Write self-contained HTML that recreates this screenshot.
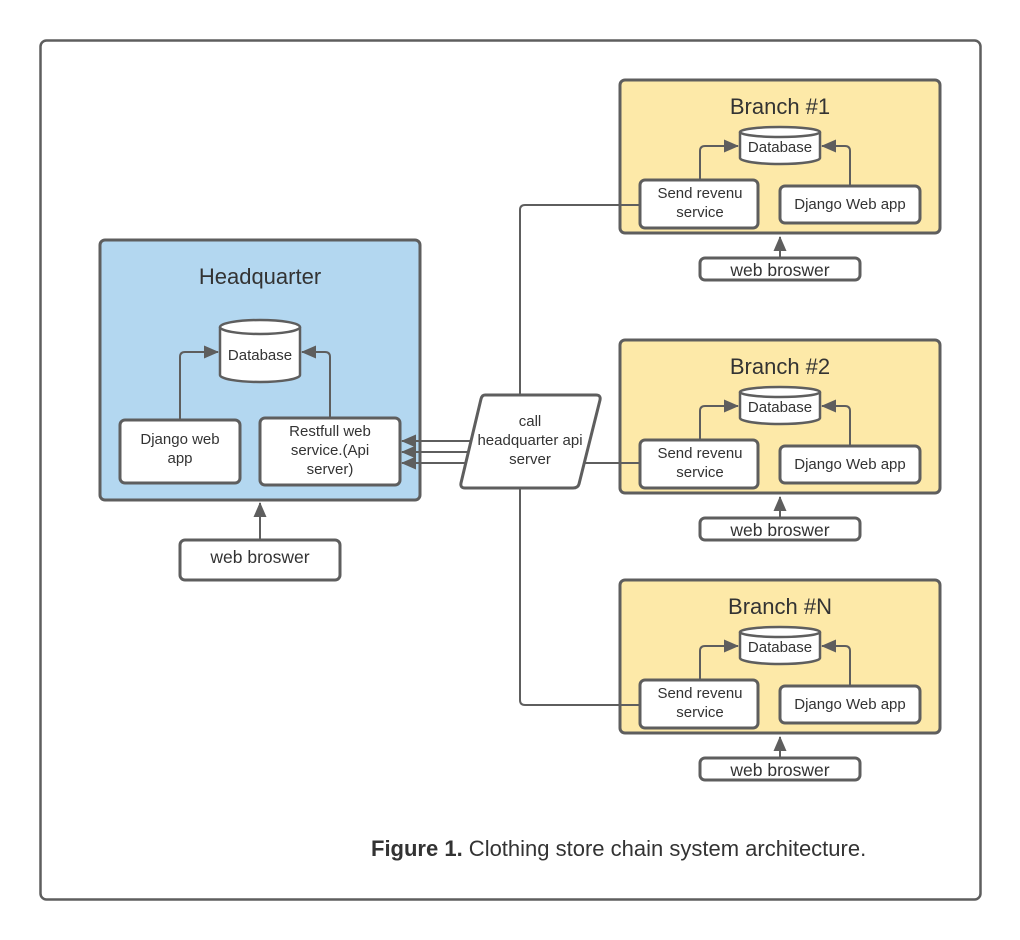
<!DOCTYPE html>
<html><head><meta charset="utf-8"><style>
html,body{margin:0;padding:0;background:#fff;}
svg{display:block;font-family:"Liberation Sans",Arial,sans-serif;}
text{fill:#333;}
</style></head><body>
<svg width="1020" height="940" viewBox="0 0 1020 940" xmlns="http://www.w3.org/2000/svg">
<defs>
<marker id="b" markerWidth="15" markerHeight="13" refX="14" refY="6.5" orient="auto" markerUnits="userSpaceOnUse"><path d="M0,0 L15,6.5 L0,13 z" fill="#5e5e5e"/></marker>
<g id="br">
<g stroke="#5e5e5e" stroke-width="3" fill="none">
<rect x="620" y="80" width="320" height="153" rx="5" fill="#fde9a8"/>
<rect x="640" y="180" width="118" height="48" rx="5" fill="#fff"/>
<rect x="780" y="186" width="140" height="37" rx="5" fill="#fff"/>
<path d="M740,132 L740,158 A40,6 0 0 0 820,158 L820,132" fill="#fff" stroke-width="2.5"/>
<ellipse cx="780" cy="132" rx="40" ry="5" fill="#fff" stroke-width="2.5"/>
<path d="M700,180 L700,151 Q700,146 705,146 L738,146" stroke-width="2" marker-end="url(#b)"/>
<path d="M850,186 L850,151 Q850,146 845,146 L822,146" stroke-width="2" marker-end="url(#b)"/>
<rect x="700" y="258" width="160" height="22" rx="5" fill="#fff"/>
<path d="M780,258 L780,237" stroke-width="2" marker-end="url(#b)"/>
</g>
<g font-size="15" text-anchor="middle">
<text x="780" y="152">Database</text>
<text x="700" y="198">Send revenu</text><text x="700" y="217">service</text>
<text x="850" y="209">Django Web app</text>
</g>
<text x="780" y="276" font-size="17.5" text-anchor="middle">web broswer</text>
</g>
</defs>
<g stroke="#5e5e5e" stroke-width="3" fill="none">
<rect x="40.5" y="40.5" width="940" height="859" rx="6" stroke-width="2.5"/>
<rect x="100" y="240" width="320" height="260" rx="5" fill="#b3d7f0"/>
<rect x="120" y="420" width="120" height="63" rx="5" fill="#fff"/>
<rect x="260" y="418" width="140" height="67" rx="5" fill="#fff"/>
<path d="M220,327 L220,375 A40,7 0 0 0 300,375 L300,327" fill="#fff" stroke-width="2.5"/>
<ellipse cx="260" cy="327" rx="40" ry="7" fill="#fff" stroke-width="2.5"/>
<path d="M180,420 L180,357 Q180,352 185,352 L218,352" stroke-width="2" marker-end="url(#b)"/>
<path d="M330,418 L330,357 Q330,352 325,352 L302,352" stroke-width="2" marker-end="url(#b)"/>
<rect x="180" y="540" width="160" height="40" rx="5" fill="#fff"/>
<path d="M260,540 L260,503" stroke-width="2" marker-end="url(#b)"/>
<path d="M520,395 L520,210 Q520,205 525,205 L640,205" stroke-width="2"/>
<path d="M520,488 L520,700 Q520,705 525,705 L640,705" stroke-width="2"/>
<path d="M582,463 L640,463" stroke-width="2"/>
<path d="M478,441 L402,441" stroke-width="2" marker-end="url(#b)"/>
<path d="M472,452 L402,452" stroke-width="2" marker-end="url(#b)"/>
<path d="M470,463 L402,463" stroke-width="2" marker-end="url(#b)"/>
<path d="M485,395 L596,395 Q601,395 600,400 L579,484 Q578,488 573,488 L465,488 Q460,488 461,483 L481,399 Q482,395 485,395 Z" fill="#fff"/>
</g>
<text x="260" y="284" font-size="22" text-anchor="middle">Headquarter</text>
<g font-size="15" text-anchor="middle">
<text x="260" y="360">Database</text>
<text x="180" y="444">Django web</text>
<text x="180" y="463">app</text>
<text x="330" y="436">Restfull web</text>
<text x="330" y="455">service.(Api</text>
<text x="330" y="474">server)</text>
<text x="530" y="426">call</text>
<text x="530" y="445">headquarter api</text>
<text x="530" y="464">server</text>
</g>
<text x="260" y="563" font-size="17.5" text-anchor="middle">web broswer</text>

<use href="#br"/>
<use href="#br" transform="translate(0,260)"/>
<use href="#br" transform="translate(0,500)"/>
<g stroke="#5e5e5e" stroke-width="2">
<path d="M618,205 L640,205"/><path d="M618,463 L640,463"/><path d="M618,705 L640,705"/>
</g>

<text x="780" y="114" font-size="22" text-anchor="middle">Branch #1</text>
<text x="780" y="374" font-size="22" text-anchor="middle">Branch #2</text>
<text x="780" y="614" font-size="22" text-anchor="middle">Branch #N</text>
<text x="371" y="856" font-size="22"><tspan font-weight="bold">Figure 1.</tspan> Clothing store chain system architecture.</text>
</svg>
</body></html>
